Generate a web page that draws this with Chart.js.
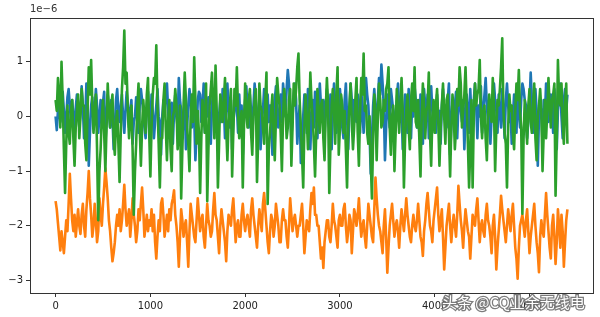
<!DOCTYPE html>
<html lang="en">
<head>
    <meta charset="UTF-8">
    <title>Signal traces</title>
    <script src="https://cdn.jsdelivr.net/npm/chart.js"></script>
    <style>
        html, body { margin: 0; padding: 0; background: #fff; }
        #wrap { width: 600px; height: 317px; position: relative; }
    </style>
</head>
<body>
<div id="wrap"><canvas id="traceChart"></canvas></div>
<script>
// sample spacing of the traces (x = index * STEP)
const STEP = 12.5;

// values in units of 1e-6, one row = 20 samples
const blueSeries = [
  0, -0.25, 0.1, 0.3, -0.1, 0.2, 0.45, 0.1, -0.3, 0.0, 0.35, 0.5, 0.2, -0.1, 0.3, 0.0, -0.35, 0.15, 0.4, 0.25,
  -0.2, 0.1, 0.55, 0.2, -0.4, -0.1, 0.6, 0.3, -0.9, -0.3, 0.2, 0.35, -0.1, 0.1, 0.5, 0.2, -0.3, 0.0, 0.3, -0.2,
  0.25, 0.45, -0.5, -0.1, 0.4, 0.15, -0.2, 0.3, 0.0, -0.6, -0.2, 0.3, 0.5, 0.1, -0.1, 0.2, 0.4, 0.0, -0.3, 0.1,
  0.45, 0.2, -0.2, 0.1, 0.3, -0.5, -0.1, 0.0, 0.35, 0.1, -0.3, 0.2, 0.5, 0.3, 0.1, -0.2, -0.4, 0.2, 0.45, 0.0,
  -0.2, 0.4, 0.1, -0.4, -0.1, 0.2, 0.5, 0.0, -0.1, -0.7, 0.0, 0.3, 0.1, 0.35, 0.6, 0.1, -0.3, 0.2, 0.25, -0.5,
  0.1, 0.4, 0.0, -0.2, 0.7, 0.3, 0.1, -0.4, 0.0, 0.3, -0.6, -0.2, 0.2, 0.5, 0.3, -0.2, 0.1, 0.0, -0.8, -0.3,
  0.3, 0.45, 0.4, -0.1, 0.2, 0.6, -0.3, 0.1, 0.0, 0.35, -0.1, -0.5, 0.2, 0.5, 0.3, -0.2, 0.1, -0.6, 0.0, 0.3,
  -0.1, 0.5, 0.2, -0.4, 0.2, 0.6, 0.1, -0.2, 0.3, -0.6, -0.1, 0.1, 0.5, 0.2, -0.3, 0.4, -0.1, 0.2, -0.7, 0.0,
  0.3, 0.55, 0.1, -0.2, 0.4, 0.1, -0.4, 0.2, 0.6, 0.3, -0.2, 0.0, 0.3, -0.6, -0.1, 0.1, 0.5, 0.2, -0.3, 0.4,
  -0.1, 0.2, 0.2, -0.7, -0.2, 0.3, 0.55, 0.1, -0.2, 0.1, 0.4, -0.1, 0.6, 0.3, 0.0, 0.5, 0.85, 0.6, 0.2, -0.4,
  0.0, 0.4, 0.6, 0.3, -0.5, -0.1, 0.2, -0.85, -0.4, 0.0, 0.4, 0.1, -0.3, 0.5, 0.1, -0.6, 0.0, 0.3, -0.2, 0.45,
  0.1, -0.4, 0.2, 0.6, 0.2, -0.1, 0.3, -0.4, 0.2, 0.5, 0.0, -0.2, 0.4, -0.6, 0.1, 0.6, 0.2, -0.3, 0.3, 0.0,
  0.5, 0.2, -0.2, -0.4, 0.3, 0.6, 0.0, -0.6, 0.1, 0.6, 0.3, -0.3, 0.3, 0.0, -0.1, 0.4, 0.2, -0.3, 0.5, 0.1,
  -0.3, 0.2, 0.7, 0.4, 0.2, -0.3, -1.05, -0.4, 0.2, 0.5, 0.1, -0.3, 0.3, 0.7, 0.4, 0.95, 0.6, 0.2, -0.8, -0.2,
  0.4, 0.1, -0.2, 0.5, 0.3, 0.1, -0.5, 0.0, 0.3, 0.6, 0.2, -0.1, 0.2, -0.6, 0.0, 0.4, 0.1, -0.3, 0.5, 0.2,
  -0.4, 0.3, 0.0, 0.55, 0.3, -0.2, 0.1, -0.3, 0.4, 0.1, -0.5, 0.5, 0.2, 0.0, 0.4, -0.4, 0.3, 0.55, 0.1, -0.2,
  0.1, -0.3, 0.4, 0.0, 0.1, -0.5, 0.2, 0.5, 0.1, 0.2, -0.2, 0.3, 0.6, -0.7, -0.2, 0.3, 0.0, 0.2, 0.45, -0.4,
  0.2, 0.5, 0.1, -0.1, 0.3, -0.6, 0.0, 0.4, 0.1, -0.3, 0.5, 0.0, -0.2, 0.3, 0.6, 0.2, -0.4, 0.2, 0.0, 0.55,
  -0.3, 0.1, 0.4, 0.7, 0.2, -0.1, 0.3, -0.5, 0.0, 0.2, 0.6, 0.3, 0.1, -0.3, 0.4, 0.1, -0.2, 0.5, 0.1, -0.4,
  0.3, 0.6, 0.2, -0.1, 0.1, -0.5, 0.0, 0.4, 0.2, -0.3, 0.45, 0.1, -0.2, 0.3, 0.6, 0.5, 0.3, 0.2, -0.4, -0.1,
  0.2, 0.8, 0.3, -0.3, 0.3, 0.5, 0.1, -0.9, 0.0, 0.2, 0.1, -0.5, 0.3, 0.0, 0.6, 0.3, -0.1, 0.2, 0.4, 0.1,
  -0.3, 0.5, 0.2, -0.6, 0.1, 0.4, 0.6, 0.0, -0.4, 0.3, 0.5, 0.1, 0.4
];

const orangeSeries = [
  -1.55, -1.7, -1.95, -2.2, -2.45, -2.1, -2.3, -2.5, -2.2, -1.9, -2.1, -1.6, -1.05, -1.5, -1.9, -2.1, -1.8, -2.2, -1.95, -1.7,
  -2.0, -2.15, -1.8, -1.6, -2.0, -2.2, -1.7, -1.4, -1.0, -1.5, -1.8, -2.2, -2.0, -1.6, -1.9, -2.3, -2.1, -1.5, -1.8, -2.0,
  -1.6, -1.3, -0.95, -1.2, -1.5, -1.9, -2.1, -2.4, -2.65, -2.5, -2.3, -2.0, -1.8, -2.0, -1.7, -2.1, -1.9, -1.6, -1.25, -1.7,
  -2.0, -1.85, -1.7, -2.2, -1.9, -1.5, -1.8, -2.0, -2.3, -2.1, -1.7, -1.9, -1.6, -1.3, -1.7, -2.2, -2.0, -1.8, -2.1, -1.9,
  -2.0, -1.7, -2.1, -1.8, -2.3, -2.6, -2.2, -1.9, -2.1, -1.6, -1.5, -1.8, -2.2, -2.0, -1.8, -2.1, -1.7, -1.9, -1.6, -1.5,
  -1.35, -1.8, -2.0, -2.3, -2.75, -2.2, -1.7, -1.9, -2.2, -2.0, -1.9, -2.3, -2.75, -2.1, -1.6, -1.8, -2.0, -2.2, -2.3, -1.9,
  -1.5, -1.8, -2.1, -1.9, -1.8, -2.2, -2.4, -2.0, -1.6, -1.9, -2.0, -2.2, -2.1, -1.7, -1.4, -1.8, -1.9, -2.2, -2.5, -2.0,
  -1.7, -1.9, -2.1, -2.3, -2.65, -2.1, -1.8, -1.9, -2.0, -1.7, -1.5, -1.9, -2.3, -2.0, -1.9, -2.2, -2.2, -1.8, -1.6, -1.9,
  -2.1, -1.9, -1.8, -2.0, -2.2, -1.7, -1.5, -1.8, -2.0, -2.2, -2.4, -2.0, -1.7, -1.9, -2.1, -1.6, -1.4, -1.7, -2.0, -2.3,
  -2.5, -2.1, -1.8, -1.9, -2.2, -2.0, -1.6, -1.8, -2.0, -2.3, -2.3, -1.9, -1.7, -1.9, -1.9, -2.2, -2.4, -2.0, -1.5, -1.8,
  -2.1, -1.9, -1.8, -2.0, -2.2, -2.0, -2.0, -1.8, -1.6, -2.0, -2.5, -2.2, -1.9, -2.0, -2.1, -1.7, -1.4, -1.6, -1.3, -1.8,
  -1.8, -2.0, -2.0, -2.3, -2.6, -2.4, -2.77, -2.3, -2.1, -1.9, -1.9, -2.2, -2.3, -2.0, -1.6, -1.9, -2.0, -2.2, -2.4, -1.9,
  -1.8, -2.0, -2.0, -1.7, -1.6, -2.0, -2.3, -2.1, -1.8, -1.9, -2.5, -2.1, -1.7, -1.8, -2.0, -1.8, -1.5, -1.9, -2.2, -2.0,
  -1.9, -2.2, -2.4, -2.0, -1.6, -1.8, -2.0, -2.2, -2.3, -1.7, -1.12, -1.5, -1.8, -2.0, -2.1, -2.3, -2.5, -2.0, -1.7, -2.2,
  -2.86, -2.4, -2.0, -1.8, -1.6, -1.9, -2.2, -2.0, -1.9, -2.1, -2.4, -2.0, -1.7, -1.9, -2.1, -1.8, -1.5, -1.8, -2.0, -2.2,
  -2.3, -2.0, -1.8, -2.0, -2.1, -1.9, -1.6, -1.9, -2.2, -2.3, -2.55, -2.1, -1.9, -1.6, -1.4, -1.7, -2.0, -2.1, -2.3, -1.9,
  -1.7, -1.5, -1.3, -1.8, -2.1, -1.9, -1.7, -2.2, -2.8, -2.4, -2.0, -1.8, -1.6, -2.0, -2.3, -2.0, -1.8, -2.0, -2.2, -1.8,
  -1.27, -1.6, -1.9, -2.1, -2.4, -2.0, -1.7, -1.9, -2.1, -2.2, -2.6, -2.2, -1.8, -1.9, -2.0, -1.7, -1.5, -1.9, -2.3, -2.0,
  -1.9, -2.1, -2.2, -1.8, -1.6, -1.9, -2.0, -2.2, -2.5, -2.0, -1.8, -2.2, -2.8, -2.4, -2.1, -1.8, -1.45, -1.7, -1.9, -2.1,
  -2.3, -2.0, -1.7, -1.9, -2.1, -1.8, -1.6, -2.0, -2.4, -2.6, -2.97, -2.4, -2.0, -1.9, -1.8, -2.0, -2.2, -1.9, -1.7, -2.1,
  -2.5, -2.2, -2.0, -1.8, -1.6, -2.0, -2.3, -2.5, -2.85, -2.2, -1.9, -2.1, -2.2, -1.8, -1.4, -1.8, -2.1, -2.4, -2.6, -2.0,
  -1.8, -2.2, -2.7, -2.3, -1.7, -2.0, -2.4, -1.8, -2.1, -2.75, -2.3, -1.9, -1.7
];

const greenSeries = [
  0.3, 0.1, 0.7, 0.4, -0.2, 1.0, 0.3, -0.6, -1.4, -0.5, 0.2, -0.3, -0.5, 0.1, 0.3, -0.4, -0.9, -0.2, 0.1, 0.4,
  -0.4, 0.0, 0.5, 0.2, 0.2, -0.5, -0.8, 0.1, 0.9, 0.4, 1.03, 0.2, -0.3, 0.1, 0.4, -0.6, -1.9, -1.0, -0.6, 0.0,
  0.3, -0.3, -1.0, -0.2, 0.6, 0.1, -0.2, 0.2, 0.4, -0.4, -0.7, -0.1, 0.1, -0.5, -1.2, -0.3, 0.5, 0.9, 1.57, 0.6,
  0.8, 0.1, -0.4, 0.0, 0.2, -0.6, -1.8, -1.0, -0.5, 0.2, 0.6, -0.2, -0.9, -0.2, 0.3, 0.0, -0.3, 0.4, 0.7, -0.3,
  -1.1, -0.2, 0.4, 0.7, 0.6, 1.3, 0.2, -0.5, -1.3, -0.4, -0.4, 0.3, 0.6, -0.2, -0.8, -0.1, 0.3, -0.6, -1.0, 0.0,
  0.1, 0.5, 0.2, -0.6, -0.3, 0.2, -1.5, -0.6, 0.2, 0.8, 0.3, -0.2, -0.5, -1.0, 0.0, 0.4, -0.1, 1.08, 0.3, -0.5,
  0.1, -0.3, -1.4, -0.4, 0.3, 0.0, -0.3, 0.6, -1.55, -0.6, 0.2, 0.5, 0.8, 0.2, -0.4, 0.93, 0.1, -1.3, -0.5, 0.4,
  0.2, -0.1, 0.3, 0.7, -0.2, -0.8, -0.1, 0.2, 0.5, -1.1, -0.3, 0.5, 0.2, 0.9, 0.1, -0.4, -0.1, 0.1, -1.3, -0.2,
  0.6, 0.1, -0.2, 0.3, 0.5, -0.3, -0.7, 0.0, 0.3, 0.5, -1.2, -0.4, 0.6, 0.2, 0.1, -0.2, -0.5, 0.3, 0.8, -1.6,
  -0.6, -0.3, 0.1, 0.4, -0.3, -0.8, 0.0, 0.7, 0.4, 0.2, -0.3, -1.0, 0.0, 0.5, 0.2, -0.4, -0.2, 0.3, 0.5, -0.9,
  -0.2, 0.6, 0.2, 0.5, 0.9, 1.15, 0.3, -0.2, -0.7, -1.3, -0.2, 0.4, 0.0, -0.6, -0.1, 0.8, 0.3, 0.0, -0.5, -1.1,
  -0.3, 0.5, 0.1, -0.3, 0.2, 0.3, -0.4, -0.8, 0.1, 0.7, 0.2, -1.4, -0.5, 0.2, 0.5, 0.1, -0.5, 0.4, 0.9, -0.7,
  -0.2, 0.4, 0.2, -0.3, 0.1, -0.6, -1.3, -0.2, 0.2, 0.6, -0.1, -0.6, -0.2, 0.3, 0.7, -0.3, -0.9, 0.1, 0.7, 0.4,
  1.15, 0.1, 0.2, -0.3, -0.5, 0.0, -0.8, -1.5, -0.4, 0.4, 0.1, -0.8, 0.0, 0.6, 0.3, -0.2, -0.1, 0.3, 0.1, 0.5,
  0.6, 0.9, -0.2, -0.7, 0.0, 0.2, -1.0, -0.3, 0.5, 0.1, -0.3, 0.2, 0.7, 0.1, -1.3, -0.4, 0.1, 0.4, -0.2, -0.6,
  0.3, 0.6, 0.1, 0.9, -0.1, -0.2, 0.3, -0.4, -1.1, 0.0, 0.6, 0.2, -0.4, 0.1, 0.2, 0.8, -0.3, -0.9, 0.0, 0.3,
  -0.3, 0.2, 0.5, -0.1, -0.9, -0.2, 0.2, 0.6, 0.0, -0.5, 0.3, 0.4, -0.3, -1.1, -0.2, 0.4, 0.1, -0.6, -0.2, 0.5,
  0.2, 0.9, 0.6, -0.2, 0.1, 0.4, 0.9, 0.2, -0.5, -1.3, -0.6, 0.3, -1.3, 0.0, 0.6, 0.2, 0.4, 0.5, 1.03, 0.0,
  -0.4, 0.1, 0.2, -0.4, -0.8, 0.0, 0.4, 0.1, -0.1, 0.7, 0.2, -1.0, -0.2, 0.3, 0.2, 0.5, 0.9, 1.43, 0.1, -0.3,
  -0.5, -1.3, -0.2, 0.4, 0.1, 0.2, -0.3, -0.6, 0.1, 0.6, 0.3, 0.85, 0.1, -0.2, -1.78, -0.4, 0.3, -0.1, -0.5, 0.2,
  0.5, -0.1, -0.3, 0.2, 0.6, -0.4, -0.8, 0.0, 0.2, 0.5, 0.1, -1.0, -0.3, 0.3, -0.4, 0.1, 0.7, 0.2, -0.2, 0.3,
  0.4, 0.6, -1.45, -0.4, 1.03, 0.3, 0.2, 0.6, -0.1, -0.5, 0.2, 0.6, -0.5
];

const xTicks = [0, 1000, 2000, 3000, 4000, 5000];
const yTicks = [-3, -2, -1, 0, 1];

function toPoints(arr) {
  return arr.map((v, i) => ({ x: i * STEP, y: v }));
}

// frame on all four sides plus the offset text and the watermark
const framePlugin = {
  id: 'frame',
  afterDraw(chart) {
    const { ctx, chartArea: a } = chart;
    ctx.save();
    ctx.strokeStyle = '#333';
    ctx.lineWidth = 1;
    ctx.strokeRect(a.left + 0.5, a.top + 0.5, a.right - a.left, a.bottom - a.top);

    ctx.fillStyle = '#333';
    ctx.font = '10px "DejaVu Sans"';
    ctx.textBaseline = 'bottom';
    ctx.fillText('1e\u22126', a.left, a.top - 4);

    ctx.font = '15px "Noto Sans CJK SC"';
    ctx.textBaseline = 'middle';
    ctx.lineWidth = 2.5;
    ctx.strokeStyle = 'rgba(110,110,110,0.9)';
    ctx.strokeText('头条 @CQ业余无线电', 442, 302);
    ctx.fillStyle = '#fff';
    ctx.fillText('头条 @CQ业余无线电', 442, 302);
    ctx.restore();
  }
};

const ctx = document.getElementById('traceChart').getContext('2d');
new Chart(ctx, {
  type: 'line',
  data: {
    datasets: [
      { data: toPoints(blueSeries), borderColor: '#1f77b4', order: 2 },
      { data: toPoints(orangeSeries), borderColor: '#ff7f0e', order: 1 },
      { data: toPoints(greenSeries), borderColor: '#2ca02c', order: 0 }
    ]
  },
  options: {
    responsive: true,
    maintainAspectRatio: false,
    animation: false,
    parsing: false,
    elements: {
      line: { borderWidth: 2.6, tension: 0, fill: false, borderJoinStyle: 'round' },
      point: { radius: 0 }
    },
    layout: { padding: { top: 18, right: 7, left: 0, bottom: 0 } },
    plugins: { legend: { display: false }, tooltip: { enabled: false } },
    scales: {
      x: {
        type: 'linear',
        min: -270,
        max: 5670,
        afterBuildTicks: s => { s.ticks = xTicks.map(v => ({ value: v })); },
        afterFit: s => { s.height = 24; },
        grid: { drawOnChartArea: false, drawTicks: true, tickLength: 4, color: '#333' },
        border: { display: false },
        ticks: {
          color: '#222',
          font: { family: 'DejaVu Sans', size: 10 },
          padding: 3,
          maxRotation: 0,
          callback: v => String(v)
        }
      },
      y: {
        min: -3.23,
        max: 1.8,
        afterBuildTicks: s => { s.ticks = yTicks.map(v => ({ value: v })); },
        afterFit: s => { s.width = 30; },
        grid: { drawOnChartArea: false, drawTicks: true, tickLength: 4, color: '#333' },
        border: { display: false },
        ticks: {
          color: '#222',
          font: { family: 'DejaVu Sans', size: 10 },
          padding: 3,
          callback: v => (v < 0 ? '\u2212' + Math.abs(v) : String(v))
        }
      }
    }
  },
  plugins: [framePlugin]
});
</script>
</body>
</html>
